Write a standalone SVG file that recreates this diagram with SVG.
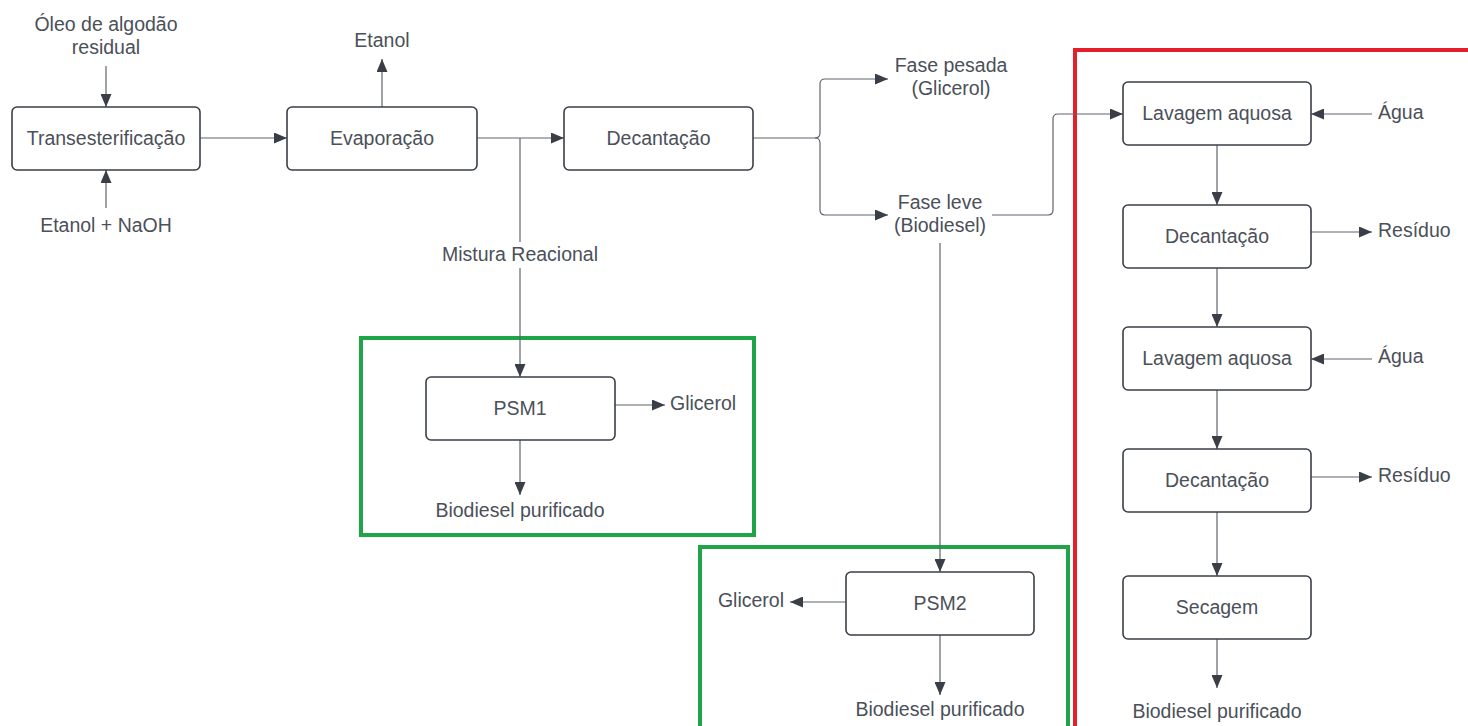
<svg xmlns="http://www.w3.org/2000/svg" width="1468" height="726" viewBox="0 0 1468 726">
  <style>
    .box { fill: #ffffff; stroke: #3a3f47; stroke-width: 1.6; }
    .lbl { font-family: "Liberation Sans", Arial, sans-serif; font-size: 19.5px; fill: #4b5059; }
    .mid { text-anchor: middle; }
    .end { text-anchor: end; }
    .wire { fill: none; stroke: #5f646c; stroke-width: 1.2; }
    .arrow { marker-end: url(#head); }
    .green { fill: none; stroke: #1fa447; stroke-width: 4; }
    .red { fill: none; stroke: #e41e2b; stroke-width: 4; }
  </style>
  <defs>
    <marker id="head" markerUnits="userSpaceOnUse" markerWidth="13" markerHeight="11" refX="13" refY="5.5" orient="auto">
      <path d="M0,0 L13,5.5 L0,11 z" fill="#3a3f47"/>
    </marker>
  </defs>

  <rect width="1468" height="726" fill="#ffffff"/>

  <!-- grouping frames -->
  <g id="frames">
    <rect class="green" x="361" y="338" width="393" height="197"/>
    <rect class="green" x="700" y="547" width="368" height="200"/>
    <rect class="red" x="1075" y="50" width="420" height="700"/>
  </g>

  <!-- connectors -->
  <g id="connectors">
    <path class="wire arrow" d="M106,66 V107"/>
    <path class="wire arrow" d="M106,208 V170"/>
    <path class="wire arrow" d="M200,138 H287"/>
    <path class="wire arrow" d="M382,107 V59"/>
    <path class="wire arrow" d="M477,138 H564"/>
    <path class="wire arrow" d="M520,138 V377"/>
    <path class="wire arrow" d="M753,138 H815 Q820,138 820,133 V84 Q820,79 825,79 H888"/>
    <path class="wire arrow" d="M815,138 Q820,138 820,143 V210 Q820,215 825,215 H888"/>
    <path class="wire arrow" d="M992,215 H1048 Q1053,215 1053,210 V119 Q1053,114 1058,114 H1123"/>
    <path class="wire arrow" d="M940,243 V572"/>
    <path class="wire arrow" d="M615,405 H665"/>
    <path class="wire arrow" d="M520,440 V495"/>
    <path class="wire arrow" d="M846,602 H790"/>
    <path class="wire arrow" d="M940,635 V695"/>
    <path class="wire arrow" d="M1217,145 V205"/>
    <path class="wire arrow" d="M1372,114 H1311"/>
    <path class="wire arrow" d="M1311,232 H1372"/>
    <path class="wire arrow" d="M1217,268 V327"/>
    <path class="wire arrow" d="M1372,359 H1311"/>
    <path class="wire arrow" d="M1217,390 V449"/>
    <path class="wire arrow" d="M1311,477 H1372"/>
    <path class="wire arrow" d="M1217,512 V576"/>
    <path class="wire arrow" d="M1217,639 V688"/>
  </g>

  <!-- stream labels -->
  <g id="streams">
    <text class="lbl mid" x="106" y="31">Óleo de algodão</text>
    <text class="lbl mid" x="106" y="54">residual</text>
    <text class="lbl mid" x="106" y="232">Etanol + NaOH</text>
    <text class="lbl mid" x="382" y="47">Etanol</text>
    <rect x="440" y="242" width="160" height="26" fill="#ffffff"/>
    <text class="lbl mid" x="520" y="261">Mistura Reacional</text>
    <text class="lbl mid" x="951" y="72">Fase pesada</text>
    <text class="lbl mid" x="951" y="95">(Glicerol)</text>
    <text class="lbl mid" x="940" y="209">Fase leve</text>
    <text class="lbl mid" x="940" y="232">(Biodiesel)</text>
    <text class="lbl" x="670" y="410">Glicerol</text>
    <text class="lbl mid" x="520" y="517">Biodiesel purificado</text>
    <text class="lbl end" x="784" y="607">Glicerol</text>
    <text class="lbl mid" x="940" y="716">Biodiesel purificado</text>
    <text class="lbl" x="1378" y="119">Água</text>
    <text class="lbl" x="1378" y="237">Resíduo</text>
    <text class="lbl" x="1378" y="363">Água</text>
    <text class="lbl" x="1378" y="482">Resíduo</text>
    <text class="lbl mid" x="1217" y="718">Biodiesel purificado</text>
  </g>

  <!-- process units -->
  <g id="transesterificacao">
    <rect class="box" x="12" y="107" width="188" height="63" rx="5"/>
    <text class="lbl mid" x="106" y="145">Transesterificação</text>
  </g>
  <g id="evaporacao">
    <rect class="box" x="287" y="107" width="190" height="63" rx="5"/>
    <text class="lbl mid" x="382" y="145">Evaporação</text>
  </g>
  <g id="decantacao">
    <rect class="box" x="564" y="107" width="189" height="63" rx="5"/>
    <text class="lbl mid" x="658.5" y="145">Decantação</text>
  </g>
  <g id="psm1">
    <rect class="box" x="426" y="377" width="189" height="63" rx="5"/>
    <text class="lbl mid" x="520" y="415">PSM1</text>
  </g>
  <g id="psm2">
    <rect class="box" x="846" y="572" width="188" height="63" rx="5"/>
    <text class="lbl mid" x="940" y="610">PSM2</text>
  </g>
  <g id="lavagem1">
    <rect class="box" x="1123" y="82" width="188" height="63" rx="5"/>
    <text class="lbl mid" x="1217" y="120">Lavagem aquosa</text>
  </g>
  <g id="decantacao2">
    <rect class="box" x="1123" y="205" width="188" height="63" rx="5"/>
    <text class="lbl mid" x="1217" y="243">Decantação</text>
  </g>
  <g id="lavagem2">
    <rect class="box" x="1123" y="327" width="188" height="63" rx="5"/>
    <text class="lbl mid" x="1217" y="365">Lavagem aquosa</text>
  </g>
  <g id="decantacao3">
    <rect class="box" x="1123" y="449" width="188" height="63" rx="5"/>
    <text class="lbl mid" x="1217" y="487">Decantação</text>
  </g>
  <g id="secagem">
    <rect class="box" x="1123" y="576" width="188" height="63" rx="5"/>
    <text class="lbl mid" x="1217" y="614">Secagem</text>
  </g>
</svg>
